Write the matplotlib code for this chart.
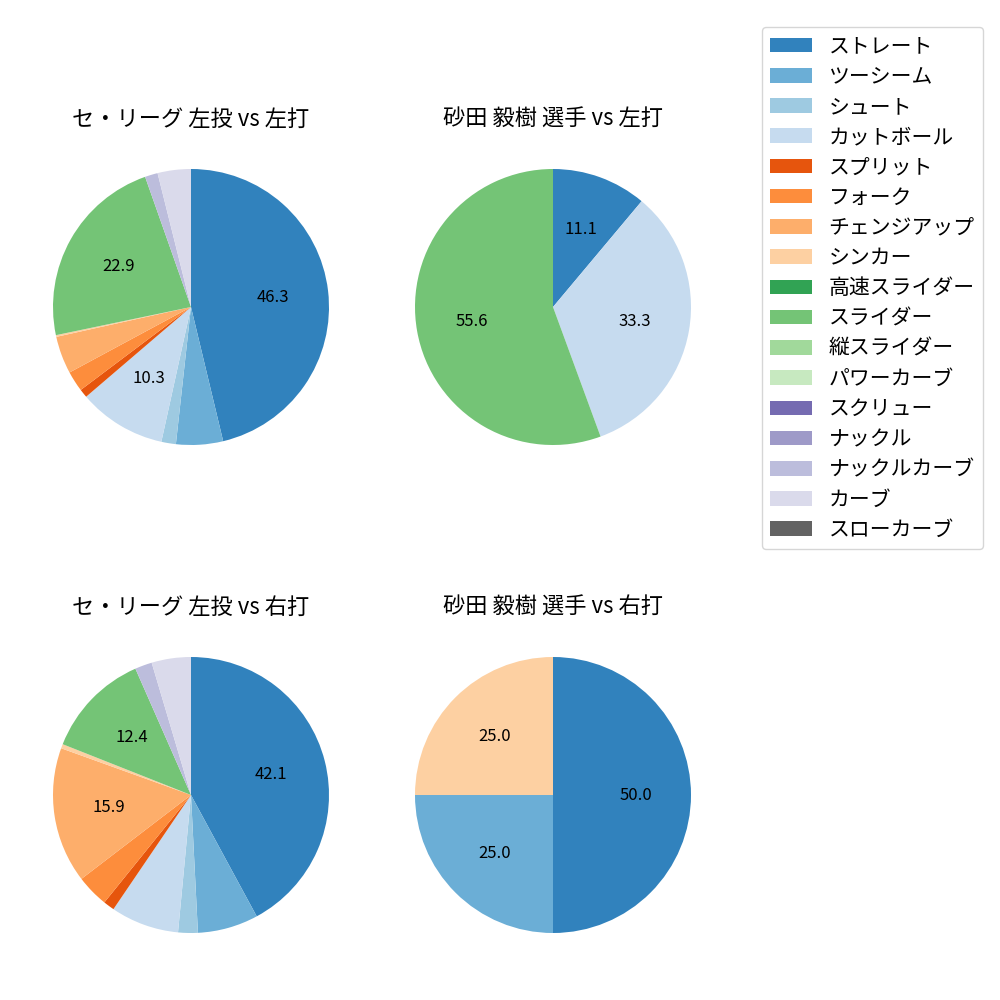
import matplotlib
matplotlib.use("Agg")
import matplotlib.pyplot as plt
from matplotlib.patches import Patch

plt.rcParams['font.family'] = ['Noto Sans CJK JP', 'DejaVu Sans']

pitch_types = ['ストレート', 'ツーシーム', 'シュート', 'カットボール', 'スプリット', 'フォーク',
               'チェンジアップ', 'シンカー', '高速スライダー', 'スライダー', '縦スライダー',
               'パワーカーブ', 'スクリュー', 'ナックル', 'ナックルカーブ', 'カーブ', 'スローカーブ']
pitch_colors = ['#3182bd', '#6baed6', '#9ecae1', '#c6dbef', '#e6550d', '#fd8d3c',
                '#fdae6b', '#fdd0a2', '#31a354', '#74c476', '#a1d99b',
                '#c7e9c0', '#756bb1', '#9e9ac8', '#bcbddc', '#dadaeb', '#636363']

# shares in order of pitch_types (0 = not thrown)
league_vs_left = [46.3, 5.5, 1.7, 10.3, 1.0, 2.4, 4.4, 0.2, 0, 22.9, 0, 0, 0, 0, 1.5, 3.9, 0]
player_vs_left = [11.1, 0, 0, 33.3, 0, 0, 0, 0, 0, 55.6, 0, 0, 0, 0, 0, 0, 0]
league_vs_right = [42.1, 7.1, 2.3, 8.0, 1.3, 3.8, 15.9, 0.5, 0, 12.4, 0, 0, 0, 0, 2.0, 4.6, 0]
player_vs_right = [50.0, 25.0, 0, 0, 0, 0, 0, 25.0, 0, 0, 0, 0, 0, 0, 0, 0, 0]

titles = ['セ・リーグ 左投 vs 左打', '砂田 毅樹 選手 vs 左打',
          'セ・リーグ 左投 vs 右打', '砂田 毅樹 選手 vs 右打']
datasets = [league_vs_left, player_vs_left, league_vs_right, player_vs_right]

# pie centres in pixels (x, y from top), pie radius 138px
centers = [(191, 307), (553, 307), (191, 795), (553, 795)]
size = 276 * 1.25

fig = plt.figure(figsize=(10, 10), dpi=100)

for (cx, cy), title, data in zip(centers, titles, datasets):
    ax = fig.add_axes([(cx - size / 2) / 1000, 1 - (cy + size / 2) / 1000,
                       size / 1000, size / 1000])
    vals = [v for v in data if v > 0]
    cols = [c for v, c in zip(data, pitch_colors) if v > 0]
    ax.pie(vals, colors=cols, startangle=90, counterclock=False,
           autopct=lambda p: f'{p:.1f}' if p >= 10 else '',
           textprops={'fontsize': 12})
    ax.set_title(title, fontsize=16)

handles = [Patch(facecolor=c, label=n) for n, c in zip(pitch_types, pitch_colors)]
fig.legend(handles=handles, loc='upper right', bbox_to_anchor=(0.983, 0.973),
           borderaxespad=0, fontsize=15, labelspacing=0.395)

fig.savefig('out.png')
